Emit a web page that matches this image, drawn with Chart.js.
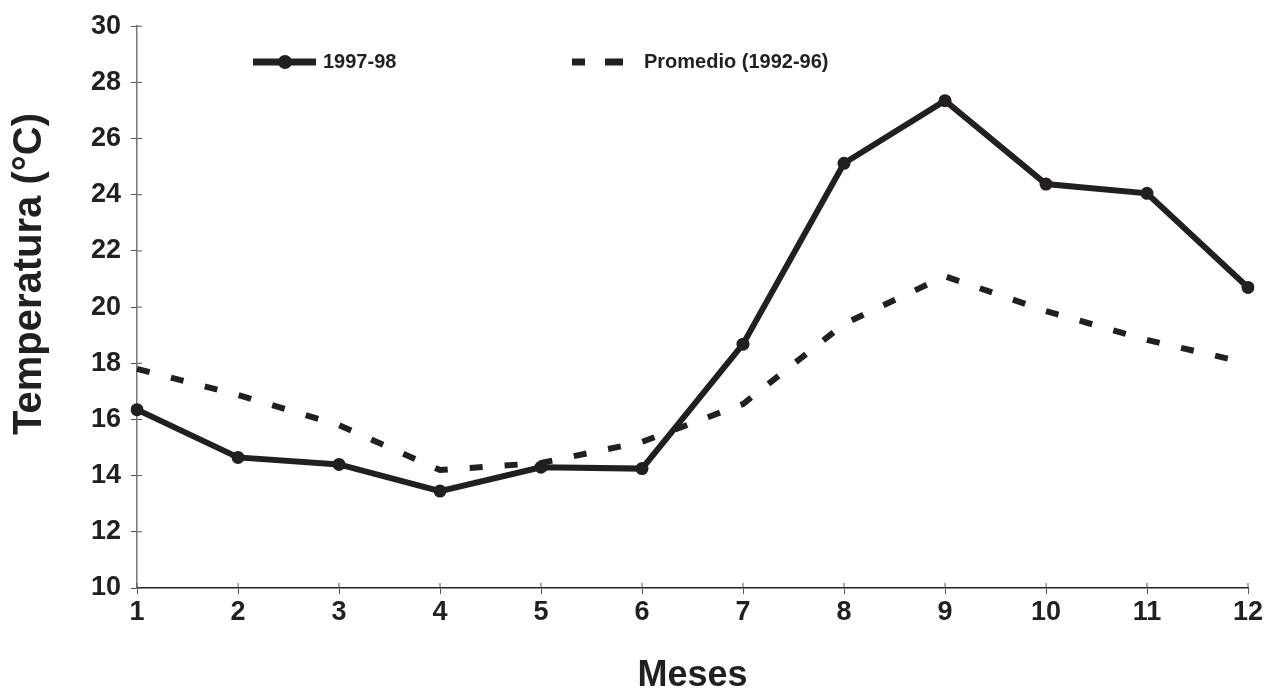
<!DOCTYPE html>
<html>
<head>
<meta charset="utf-8">
<script src="https://cdn.jsdelivr.net/npm/chart.js@4/dist/chart.umd.min.js"></script>
<style>
  html, body { margin: 0; padding: 0; background: #fff; }
  #wrap { width: 1280px; height: 698px; position: relative; }
</style>
</head>
<body>
<div id="wrap"><canvas id="chart"></canvas></div>
<script>
const months = ["1", "2", "3", "4", "5", "6", "7", "8", "9", "10", "11", "12"];
const temp9798 = [16.35, 14.65, 14.4, 13.45, 14.3, 14.25, 18.68, 25.12, 27.35, 24.38, 24.05, 20.7];
const tempAvg = [17.8, 16.87, 15.8, 14.2, 14.45, 15.2, 16.55, 19.4, 21.1, 19.86, 18.83, 18.0];
const legendLabels = ["1997-98", "Promedio (1992-96)"];
const yTitle = "Temperatura (°C)";
const xTitle = "Meses";

const ink = "#231f20";
const fontFam = "'Liberation Sans', Arial, sans-serif";

// legend + y title + inner tick marks drawn by hand
const extras = {
  id: "extras",
  afterDraw(chart) {
    const ctx = chart.ctx;
    const y = chart.scales.y;
    const x = chart.scales.x;
    ctx.save();
    // inner halves of the tick marks
    ctx.strokeStyle = "#555";
    ctx.lineWidth = 1;
    y.ticks.forEach((t) => {
      const py = y.getPixelForValue(t.value);
      ctx.beginPath();
      ctx.moveTo(x.left, py);
      ctx.lineTo(x.left + 5, py);
      ctx.stroke();
    });
    x.ticks.forEach((t, i) => {
      const px = x.getPixelForTick(i);
      ctx.beginPath();
      ctx.moveTo(px, y.bottom);
      ctx.lineTo(px, y.bottom - 5);
      ctx.stroke();
    });

    // legend
    const ly = 62;
    ctx.strokeStyle = ink;
    ctx.fillStyle = ink;
    ctx.lineWidth = 7;
    ctx.beginPath();
    ctx.moveTo(253, ly);
    ctx.lineTo(316, ly);
    ctx.stroke();
    ctx.beginPath();
    ctx.arc(285, ly, 7, 0, Math.PI * 2);
    ctx.fill();
    ctx.fillRect(572, ly - 3.5, 13, 7);
    ctx.fillRect(605, ly - 3.5, 18, 7);
    ctx.font = "bold 20px " + fontFam;
    ctx.textBaseline = "middle";
    ctx.textAlign = "left";
    ctx.fillText(legendLabels[0], 323, ly);
    ctx.fillText(legendLabels[1], 644, ly);

    // y title
    ctx.translate(30, 274);
    ctx.rotate(-Math.PI / 2);
    ctx.textAlign = "center";
    ctx.font = "bold 40px " + fontFam;
    ctx.fillText(yTitle, 0, 0);
    ctx.restore();
  }
};

const data = {
  labels: months,
  datasets: [
    {
      label: legendLabels[0],
      data: temp9798,
      borderColor: ink,
      backgroundColor: ink,
      borderWidth: 6,
      pointRadius: 6.5,
      pointHoverRadius: 6.5,
      pointBorderWidth: 0,
      tension: 0,
    },
    {
      label: legendLabels[1],
      data: tempAvg,
      borderColor: ink,
      backgroundColor: ink,
      borderWidth: 6,
      borderDash: [13, 22],
      borderCapStyle: "butt",
      pointRadius: 0,
      tension: 0,
    },
  ],
};

const options = {
  animation: false,
  responsive: true,
  maintainAspectRatio: false,
  layout: { padding: { top: 26, right: 32, left: 0, bottom: 0 } },
  plugins: {
    legend: { display: false },
    tooltip: { enabled: false },
  },
  scales: {
    x: {
      type: "category",
      offset: false,
      grid: {
        offset: false,
        drawOnChartArea: false,
        tickLength: 6,
        color: "#555",
      },
      border: { color: "#222", width: 1.5 },
      ticks: {
        color: ink,
        padding: 2,
        maxRotation: 0,
        autoSkip: false,
        font: { family: fontFam, size: 27, weight: "bold" },
      },
      title: {
        display: true,
        text: xTitle,
        color: ink,
        padding: { top: 36, bottom: 0 },
        font: { family: fontFam, size: 36, weight: "bold" },
      },
      afterFit(scale) { scale.height = 110; },
    },
    y: {
      min: 10,
      max: 30,
      ticks: {
        stepSize: 2,
        color: ink,
        padding: 10,
        font: { family: fontFam, size: 27, weight: "bold" },
      },
      grid: {
        drawOnChartArea: false,
        tickLength: 6,
        color: "#555",
      },
      border: { color: "#777", width: 1.5 },
      afterFit(scale) { scale.width = 137; },
    },
  },
};

const config = {
  type: "line",
  data: data,
  options: options,
  plugins: [extras],
};

const chart = new Chart(document.getElementById("chart"), config);
</script>
</body>
</html>
